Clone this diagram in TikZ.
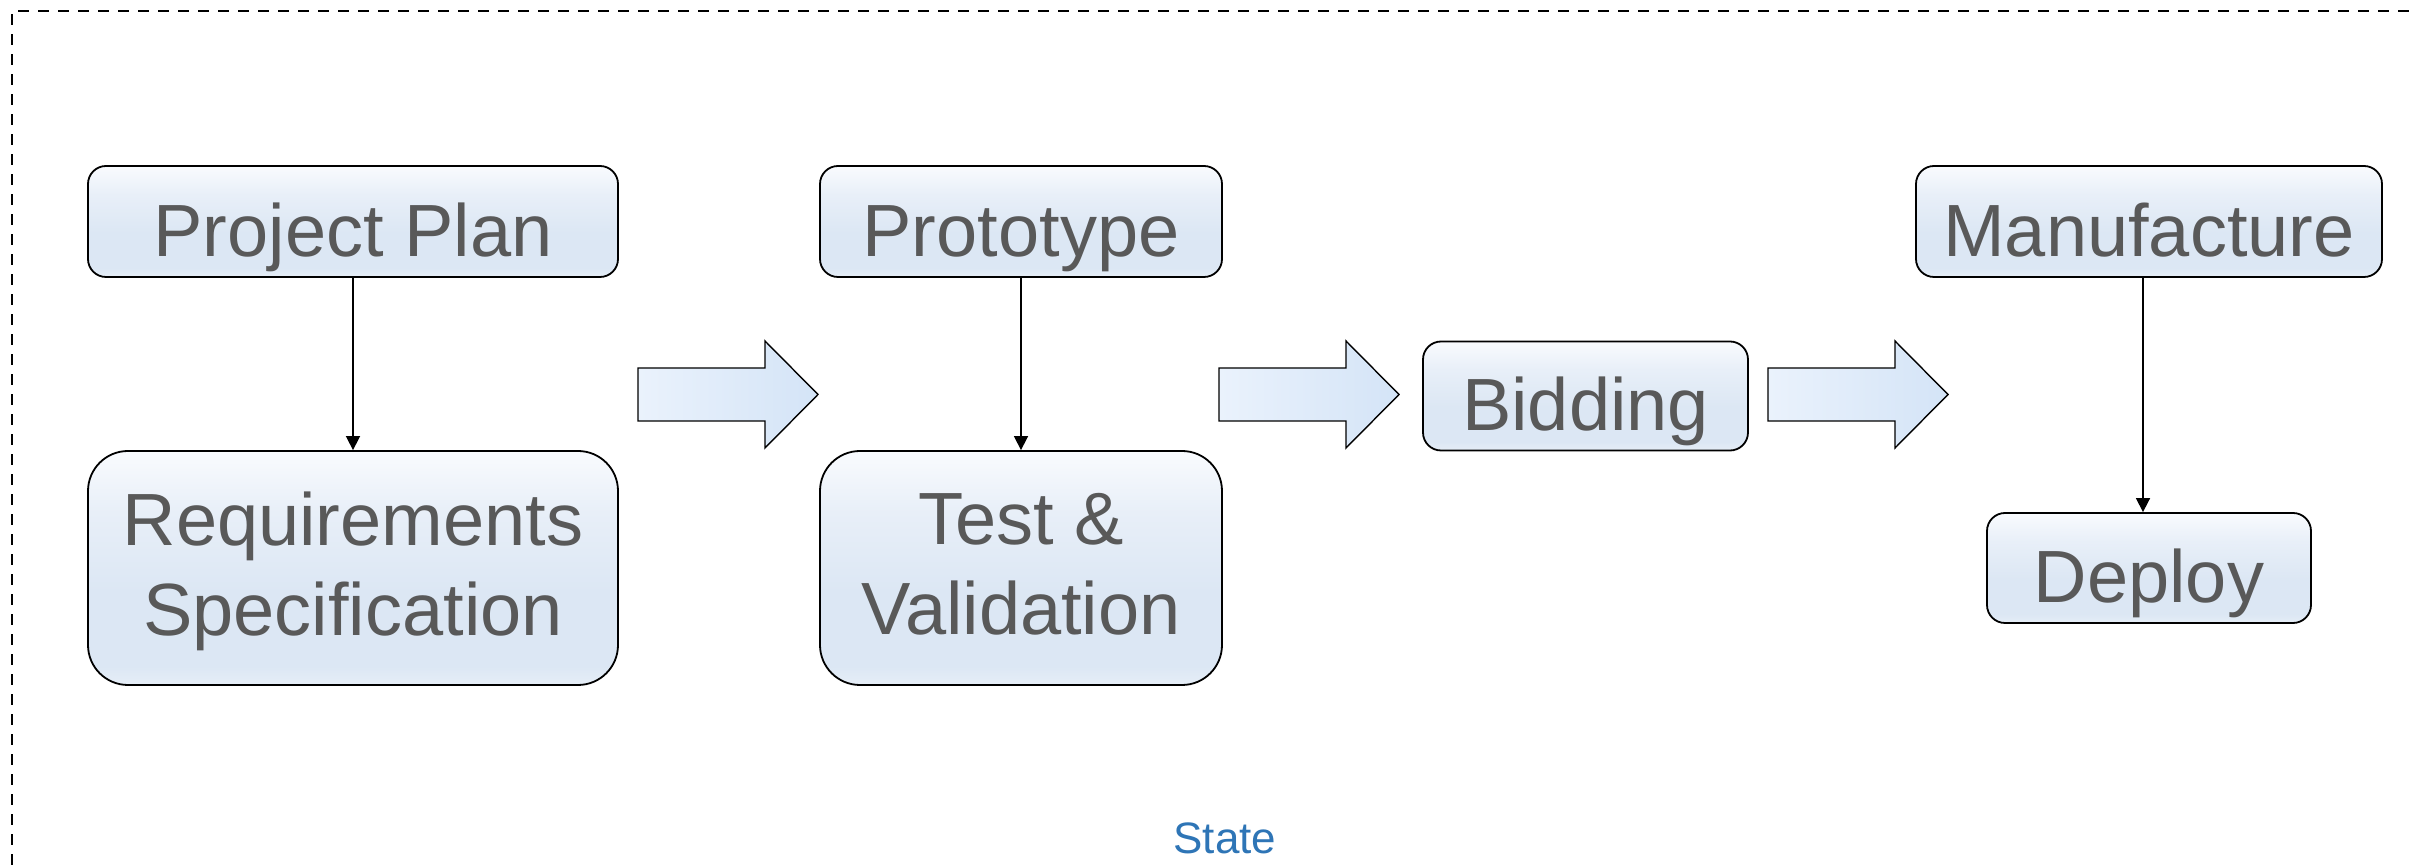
\documentclass[tikz,border=0pt]{standalone}
\usepackage{fontspec}
\setmainfont{Liberation Sans}
\usetikzlibrary{arrows.meta,calc}
\definecolor{txtgray}{HTML}{595959}
\definecolor{statblue}{HTML}{2E75B6}
\definecolor{boxtop}{HTML}{F9FBFE}
\definecolor{boxmid}{HTML}{E8EFF8}
\definecolor{boxbot}{HTML}{DCE7F4}
\definecolor{boxedge}{HTML}{E6EEF7}
\definecolor{arrlight}{HTML}{EAF2FC}
\definecolor{arrdark}{HTML}{D4E4F7}
\pgfdeclareverticalshading{boxshade}{100bp}{color(0bp)=(boxedge); color(25bp)=(boxedge); color(29bp)=(boxbot); color(45bp)=(boxbot); color(62bp)=(boxmid); color(75bp)=(boxtop); color(100bp)=(boxtop)}
\tikzset{
  stepnode/.style={draw=black, line width=0.9pt, shading=boxshade, text=txtgray,
    font=\fontsize{37}{45}\selectfont, inner sep=0pt},
  shortbox/.style={stepnode, minimum height=55.5pt, rounded corners=9pt, text height=35pt, text depth=0pt},
  tallbox/.style={stepnode, minimum height=117pt, rounded corners=20pt, align=center, text depth=4pt},
  link/.style={line width=0.8pt, -{Triangle[length=7pt,width=7pt]}},
  blockarrow/.style={draw=black, line width=0.7pt, left color=arrlight, right color=arrdark},
  border/.style={line width=0.8pt, dash pattern=on 5.5pt off 4.5pt},
  pics/barrow/.style={code={\path[blockarrow] (0,-26.5) -- (127,-26.5) -- (127,-53.5) -- (180,0) -- (127,53.5) -- (127,26.5) -- (0,26.5) -- cycle;}}
}
\begin{document}
\begin{tikzpicture}[x=0.5pt,y=-0.5pt]
\useasboundingbox (0,0) rectangle (2417,865);
\draw[border] (12,865) -- (12,11) -- (2417,11);

\node[shortbox, minimum width=265pt] (PP) at (353,221.5) {Project Plan};
\node[tallbox, minimum width=265pt] (RS) at (353,568) {Requirements\\Specification};
\node[shortbox, minimum width=201pt] (PR) at (1021,221.5) {Prototype};
\node[tallbox, minimum width=201pt] (TV) at (1021,568) {Test \&\\Validation};
\node[shortbox, minimum width=162.5pt, minimum height=54.5pt] (BD) at (1585.5,396) {Bidding};
\node[shortbox, minimum width=233pt] (MF) at (2149,221.5) {Manufacture};
\node[shortbox, minimum width=162pt, minimum height=55pt] (DP) at (2149,568) {Deploy};
\node[text=statblue, font=\fontsize{22}{26}\selectfont, anchor=base, inner sep=0pt] (ST) at (1225,854) {State};

\draw[link] (PP) -- (RS);
\draw[link] (PR) -- (TV);
\draw[link] ($(MF.south)+(-6,0)$) -- ($(DP.north)+(-6,0)$);

\pic at (638,394.5) {barrow};
\pic at (1219,394.5) {barrow};
\pic at (1768,394.5) {barrow};
\end{tikzpicture}
\end{document}
